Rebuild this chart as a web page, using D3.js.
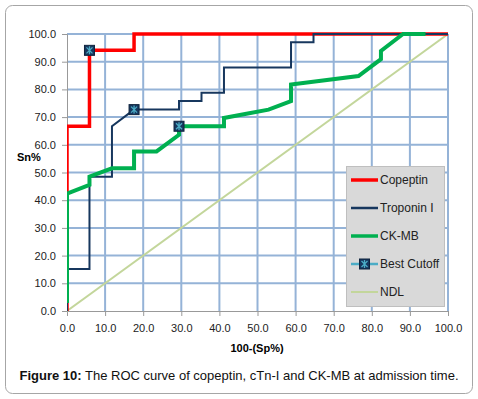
<!DOCTYPE html>
<html>
<head>
<meta charset="utf-8">
<script src="https://cdn.jsdelivr.net/npm/d3@7"></script>
<style>
  body { margin: 0; background: #fff; }
  text { font-family: Arial, "Liberation Sans", sans-serif; }
</style>
</head>
<body>
<div id="chart-area"></div>
<script>
// ROC curves, x = 100-(Sp%), y = Sn%
let copeptin = [[0, 0], [0, 66.7], [5.9, 66.7], [5.9, 94.1], [17.6, 94.1], [17.6, 100], [100, 100]];
let troponin = [[0, 0], [0, 15.2], [5.9, 15.2], [5.9, 48.5], [11.8, 48.5], [11.8, 66.7], [17.6, 72.7],
    [29.4, 72.7], [29.4, 75.8], [35.3, 75.8], [35.3, 78.8], [41.2, 78.8], [41.2, 87.9],
    [58.8, 87.9], [58.8, 97.0], [64.7, 97.0], [64.7, 100], [100, 100]];
let ckmb = [[0, 2.9], [0, 42.4], [5.9, 45.5], [5.9, 48.5], [11.8, 51.5], [17.6, 51.5], [17.6, 57.6],
    [23.5, 57.6], [29.4, 63.6], [29.4, 66.7], [41.2, 66.7], [41.2, 69.7], [47.1, 71.2], [52.9, 72.7],
    [58.8, 75.8], [58.8, 81.8], [76.5, 84.8], [82.4, 90.9], [82.4, 93.9], [88.2, 100], [94.1, 100]];
let ndl = [[0, 0], [100, 100]];
let bestCutoff = [[5.9, 94.1], [17.6, 72.7], [29.4, 66.7]];
let ticks = [0, 10, 20, 30, 40, 50, 60, 70, 80, 90, 100];
let legendItems = ["Copeptin", "Troponin I", "CK-MB", "Best Cutoff", "NDL"];

let W = 478, H = 399;
let margin = {top: 34, right: 30, bottom: 88, left: 67};

let svg = d3.select("#chart-area").append("svg")
    .attr("width", W)
    .attr("height", H);

// outer frame
svg.append("rect")
    .attr("x", 5.5).attr("y", 5.5)
    .attr("width", 467).attr("height", 388)
    .attr("rx", 7)
    .attr("fill", "#fff")
    .attr("stroke", "#a6a6a6");

let width = 448 - margin.left;
let height = 311 - margin.top;

let g = svg.append("g")
    .attr("transform", "translate(" + margin.left + "," + margin.top + ")");

// clip lines at the left/right plot edges
svg.append("defs").append("clipPath").attr("id", "plot-clip")
    .append("rect")
    .attr("x", 0).attr("y", -10)
    .attr("width", width).attr("height", height + 20);

let x = d3.scaleLinear().domain([0, 100]).range([0, width]);
let y = d3.scaleLinear().domain([0, 100]).range([height, 0]);

// grid
g.selectAll(".vgrid").data(ticks.slice(1)).enter().append("line")
    .attr("x1", d => x(d)).attr("x2", d => x(d))
    .attr("y1", 0).attr("y2", height)
    .attr("stroke", "#95b3d7").attr("stroke-width", 2);
g.selectAll(".hgrid").data(ticks.slice(1)).enter().append("line")
    .attr("x1", 0).attr("x2", width)
    .attr("y1", d => y(d)).attr("y2", d => y(d))
    .attr("stroke", "#95b3d7").attr("stroke-width", 2);

// axes
let xAxis = d3.axisBottom(x).tickValues(ticks).tickFormat(d3.format(".1f")).tickSize(5).tickPadding(6);
let yAxis = d3.axisLeft(y).tickValues(ticks).tickFormat(d3.format(".1f")).tickSize(5).tickPadding(6);

let gx = g.append("g").attr("transform", "translate(0," + height + ")").call(xAxis);
let gy = g.append("g").call(yAxis);
[gx, gy].forEach(a => {
    a.select(".domain").attr("stroke", "#999").attr("stroke-width", 1);
    a.selectAll(".tick line").attr("stroke", "#999");
    a.selectAll(".tick text").attr("fill", "#222").style("font-size", "11px");
});
gx.selectAll(".tick text").attr("dy", "0.9em");

let line = d3.line().x(d => x(d[0])).y(d => y(d[1]));
let lines = g.append("g").attr("clip-path", "url(#plot-clip)");

lines.append("path").datum(ndl).attr("d", line)
    .attr("fill", "none").attr("stroke", "#c3d69b").attr("stroke-width", 2);
lines.append("path").datum(copeptin).attr("d", line)
    .attr("fill", "none").attr("stroke", "#ff0000").attr("stroke-width", 3.5);
lines.append("path").datum(troponin).attr("d", line)
    .attr("fill", "none").attr("stroke", "#17375e").attr("stroke-width", 2);
lines.append("path").datum(ckmb).attr("d", line)
    .attr("fill", "none").attr("stroke", "#00b050").attr("stroke-width", 4);

function cutoffMarker(sel) {
    sel.append("rect")
        .attr("x", -5).attr("y", -5).attr("width", 10).attr("height", 10)
        .attr("fill", "#17375e").attr("stroke", "#0f243e");
    sel.append("path")
        .attr("d", "M-3,-3L3,3M-3,3L3,-3M0,-4L0,4")
        .attr("stroke", "#4bacc6").attr("stroke-width", 1.3);
}

g.selectAll(".cutoff").data(bestCutoff).enter().append("g")
    .attr("transform", d => "translate(" + x(d[0]) + "," + y(d[1]) + ")")
    .each(function() { cutoffMarker(d3.select(this)); });

// axis titles
svg.append("text")
    .attr("x", 257).attr("y", 352)
    .attr("text-anchor", "middle")
    .style("font-size", "11px").style("font-weight", "bold")
    .text("100-(Sp%)");
svg.append("text")
    .attr("x", 17).attr("y", 161)
    .style("font-size", "11px").style("font-weight", "bold")
    .text("Sn%");

// legend
let legend = svg.append("g").attr("transform", "translate(346,166)");
legend.append("rect")
    .attr("x", 0.5).attr("y", 0.5).attr("width", 98).attr("height", 140)
    .attr("fill", "#d9d9d9").attr("stroke", "#bfbfbf");
let legendColors = ["#ff0000", "#17375e", "#00b050", "#4bacc6", "#c3d69b"];
let legendWidths = [3.5, 2.5, 3.5, 2.5, 2];
legendItems.forEach((name, i) => {
    let ly = 14 + i * 28;
    legend.append("line")
        .attr("x1", 5).attr("x2", 32).attr("y1", ly).attr("y2", ly)
        .attr("stroke", legendColors[i]).attr("stroke-width", legendWidths[i]);
    if (name === "Best Cutoff") {
        let m = legend.append("g").attr("transform", "translate(18.5," + ly + ")");
        cutoffMarker(m);
    }
    legend.append("text")
        .attr("x", 34).attr("y", ly + 4)
        .attr("fill", "#222")
        .style("font-size", "12px")
        .text(name);
});

// caption
let cap = svg.append("text")
    .attr("x", 239).attr("y", 380)
    .attr("text-anchor", "middle")
    .style("font-size", "13px")
    .attr("fill", "#111");
cap.append("tspan").style("font-weight", "bold").text("Figure 10:");
cap.append("tspan").text(" The ROC curve of copeptin, cTn-I and CK-MB at admission time.");
</script>
</body>
</html>
